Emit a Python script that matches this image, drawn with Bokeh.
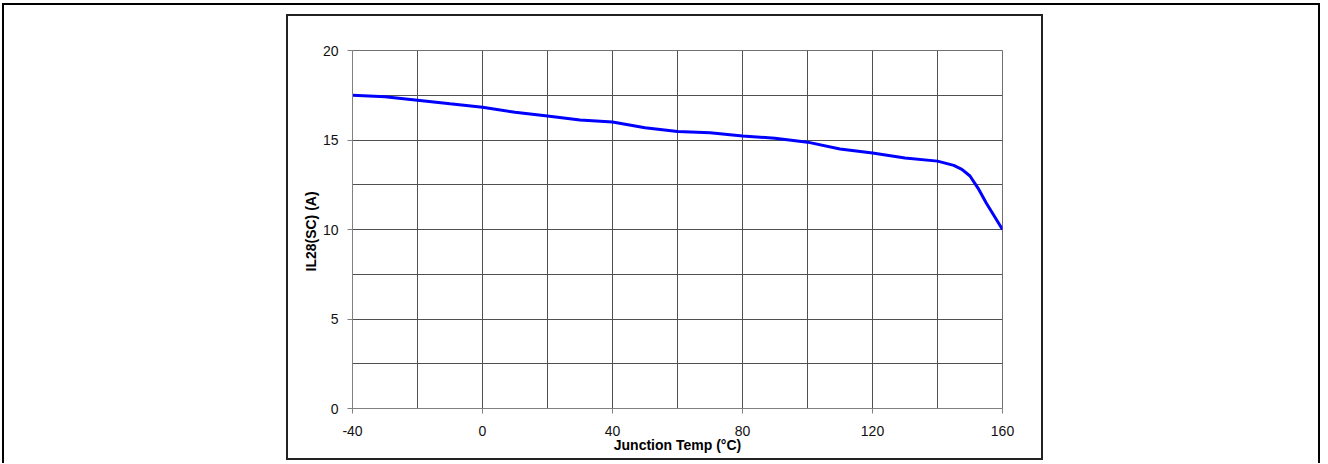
from bokeh.plotting import figure
from bokeh.models import Range1d, FixedTicker
from bokeh.embed import file_html
from bokeh.resources import INLINE

# ---- data ----
temp_c = [-40, -30, -20, -10, 0, 10, 20, 30, 40, 50, 60, 70, 80, 90, 100,
          110, 120, 130, 140, 145, 147.5, 150, 152.5, 155, 160]
il28_sc = [17.50, 17.42, 17.22, 17.02, 16.83, 16.55, 16.34, 16.12, 16.00,
           15.68, 15.48, 15.41, 15.22, 15.10, 14.88, 14.50, 14.27, 13.99,
           13.82, 13.58, 13.36, 12.99, 12.30, 11.48, 10.00]

x_ticks = [-40, 0, 40, 80, 120, 160]
x_tick_labels = ["-40", "0", "40", "80", "120", "160"]
x_grid = [-40, -20, 0, 20, 40, 60, 80, 100, 120, 140, 160]
y_ticks = [0, 5, 10, 15, 20]
y_tick_labels = ["0", "5", "10", "15", "20"]
y_grid = [0, 2.5, 5, 7.5, 10, 12.5, 15, 17.5, 20]

x_title = "Junction Temp (°C)"
y_title = "IL28(SC)  (A)"

FONT = "Liberation Sans"

W, H = 1326, 463
p = figure(width=W, height=H, frame_width=650, frame_height=358,
           min_border_left=352, min_border_right=W - 352 - 650,
           min_border_top=50, min_border_bottom=H - 50 - 358,
           x_range=Range1d(-40, 160), y_range=Range1d(0, 20),
           output_backend="svg", toolbar_location=None,
           background_fill_color="white", border_fill_color=None)

# page frame and chart box drawn as CSS background of the figure element
def edge(x, y, w, h, c):
    return f"linear-gradient({c},{c}) {x}px {y}px / {w}px {h}px no-repeat"

frames = [
    # outer page frame
    edge(2, 3, 2, 480, "#000"), edge(2, 3, 1318, 2, "#000"),
    edge(1318, 3, 2, 480, "#000"),
    # inner chart box
    edge(286, 14, 2, 446, "#222"), edge(286, 14, 757, 2, "#222"),
    edge(1041, 14, 2, 446, "#222"), edge(286, 458, 757, 2, "#222"),
]
p.styles = {"background": ", ".join(frames + ["#ffffff"])}

p.outline_line_color = "#707070"
p.outline_line_width = 1

# grid
p.xgrid.ticker = FixedTicker(ticks=x_grid)
p.ygrid.ticker = FixedTicker(ticks=y_grid)
for g in (p.xgrid, p.ygrid):
    g.grid_line_color = "#505050"
    g.grid_line_width = 1

# axes
p.xaxis.ticker = FixedTicker(ticks=x_ticks)
p.xaxis.major_label_overrides = dict(zip(x_ticks, x_tick_labels))
p.yaxis.ticker = FixedTicker(ticks=y_ticks)
p.yaxis.major_label_overrides = dict(zip(y_ticks, y_tick_labels))
for ax in (p.xaxis, p.yaxis):
    ax.axis_line_color = "#808080"
    ax.axis_line_width = 1
    ax.major_tick_line_color = "#808080"
    ax.major_tick_out = 5
    ax.major_tick_in = 0
    ax.minor_tick_line_color = None
    ax.major_label_text_font = FONT
    ax.major_label_text_font_size = "14px"
    ax.major_label_text_color = "#111111"
    ax.axis_label_text_font = FONT
    ax.axis_label_text_font_size = "14px"
    ax.axis_label_text_font_style = "bold"
    ax.axis_label_text_color = "#000000"
p.xaxis.axis_label = x_title
p.yaxis.axis_label = y_title
p.xaxis.major_label_standoff = 12
p.xaxis.axis_label_standoff = -2
p.yaxis.major_label_standoff = 9
p.yaxis.axis_label_standoff = 1

# data line
p.line(temp_c, il28_sc, line_color="#0000FF", line_width=3)

open("out.html", "w").write(file_html(p, INLINE))
